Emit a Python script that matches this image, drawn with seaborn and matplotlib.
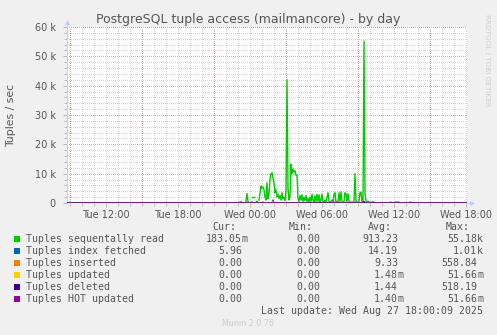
import numpy as np
import pandas as pd
import matplotlib
matplotlib.use("Agg")
import matplotlib.pyplot as plt
from matplotlib.patches import Rectangle
import seaborn as sns

# ---------------- data ----------------
# 5-minute samples, x in hours since Tue 00:00 (Tue 08:45 -> Wed 18:05)
start_hour = 8.75
step_hours = 5 / 60
n_samples = 400

# Tuples sequentially read, thousands/sec, samples from Tue 23:00 on (nan = no data)
seq_read_start = 23.0
seq_read_k = [
    0, 0, 0.3, 0.5, 0, 0, 0, 0, 0.5, 3.2, 0.5, 0, 0,
    np.nan, 2.2, 2.2, 2.2, np.nan, 0.6, 0.6, np.nan,
    1.0, 3.5, 5.8, 5.0, 5.5, 4.5, 2.0, 1.0, 7.0, 1.5, 3.0, 8.0, 10.0, 10.3, 8.5,
    7.0, 3.5, 4.5, 2.0, 3.0, 1.5, 2.5, 1.0, 3.5, 1.5, 2.0, 0.8, 4.0, 42.0, 5.0,
    1.0, 2.0, 13.3, 10.0, 11.5, 10.5, 11.0, 9.5, 9.5, 1.5,
    0.5, 2.5, 1.0, 2.8, 0.5, 2.0, 0.8, 2.5, 0.5, 1.5, 0.3, 2.0, 0.5, 3.0, 0.8,
    0.3, 2.5, 0.5, 3.0, 0.5, 2.8, 0.5, 1.0, 3.0, 0.5, 0.3, 1.0, 0.3, 2.0, 3.5,
    0.5, 0.3, 0.5, 1.0, 0.3, 3.0, 3.5, 0.3, 0.5, 0.3, 3.5, 0.5, 3.8, 0.5, 0.3,
    0.5, 3.5, 3.0, 0.5, 3.2, 0.5, 0.3, 0.3, 0.3, 0.3, 0.5,
    10.0, 0.3, 0.3, 0.3, 0.5, 3.5, 3.7, 0.5, 0.8, 55.2, 3.0, 0.6, 0.5, 0.6,
    0.3, 0.3, 0.2, 0.3, 0.4,
    0, 0, 0, 0, 0, 0, 0, 0, 0, 0, 0, 0, 0, 0, 0, 0,
    0.3, 0.3, 0, 0, 0, 0.3, 0.3, 0.3, 0.3, 0.3, 0,
    0, 0, 0, 0, 0, 0, 0, 0, 0, 0.3, 0.3, 0, 0, 0, 0,
]

# sparse series: (hour, tuples/sec); zero elsewhere
idx_fetch_hours = [23.25, 25.083, 25.917]
idx_fetch_vals = [300, 200, 1010]
inserted_hours = [23.167, 23.25, 23.333, 24.167, 25.083, 25.917]
inserted_vals = [400, 550, 300, 500, 400, 500]
updated_hours = []
updated_vals = []
deleted_hours = [33.5]
deleted_vals = [518]
hot_hours = []
hot_vals = []

series_labels = ["Tuples sequentally read", "Tuples index fetched", "Tuples inserted",
                 "Tuples updated", "Tuples deleted", "Tuples HOT updated"]
series_colors = ["#00cc00", "#0066b3", "#ff8000", "#ffcc00", "#330099", "#990099"]
cur_vals = ["183.05m", "5.96", "0.00", "0.00", "0.00", "0.00"]
min_vals = ["0.00", "0.00", "0.00", "0.00", "0.00", "0.00"]
avg_vals = ["913.23", "14.19", "9.33", "1.48m", "1.44", "1.40m"]
max_vals = ["55.18k", "1.01k", "558.84", "51.66m", "518.19", "51.66m"]

x_tick_hours = [12, 18, 24, 30, 36, 42]
x_tick_labels = ["Tue 12:00", "Tue 18:00", "Wed 00:00", "Wed 06:00", "Wed 12:00", "Wed 18:00"]
x_major_grid_hours = [9, 15, 21, 27, 33, 39]
y_ticks = [0, 10000, 20000, 30000, 40000, 50000, 60000]
y_tick_labels = ["0", "10 k", "20 k", "30 k", "40 k", "50 k", "60 k"]

title = "PostgreSQL tuple access (mailmancore) - by day"
ylabel = "Tuples / sec"
last_update = "Last update: Wed Aug 27 18:00:09 2025"

# ---------------- build series ----------------
hours = start_hour + np.arange(n_samples) * step_hours


def sparse_series(hs, vs):
    arr = np.zeros(n_samples)
    for h, v in zip(hs, vs):
        arr[int(round((h - start_hour) / step_hours))] = v
    return arr


seq = np.zeros(n_samples)
i0 = int(round((seq_read_start - start_hour) / step_hours))
seq[i0:i0 + len(seq_read_k)] = np.array(seq_read_k) * 1000
seg = np.cumsum(np.isnan(seq))
df_seq = pd.DataFrame({"hour": hours, "value": seq, "seg": seg}).dropna()

others = [sparse_series(idx_fetch_hours, idx_fetch_vals),
          sparse_series(inserted_hours, inserted_vals),
          sparse_series(updated_hours, updated_vals),
          sparse_series(deleted_hours, deleted_vals),
          sparse_series(hot_hours, hot_vals)]

# ---------------- figure ----------------
W, H = 497, 335
BG = "#f0f0f0"
TXT = "#555555"
fig = plt.figure(figsize=(W / 100, H / 100), dpi=100, facecolor=BG)
L, R, T, B = 67, 467, 27, 203
ax = fig.add_axes([L / W, 1 - B / H, (R - L) / W, (B - T) / H])
ax.set_facecolor("white")

xmin, xmax = start_hour, start_hour + n_samples * step_hours
ax.set_xlim(xmin, xmax)
ax.set_ylim(0, 60000)

# grid (1px on / 1px off dotted, like rrdtool)
dash = (0, (1, 1.3))
gkw = dict(lw=0.72, ls=dash, antialiased=False)
for h in range(9, 43):
    if h in x_major_grid_hours:
        continue
    ax.axvline(h, color="#d6d6d6", zorder=0.5, **gkw)
for v in range(2000, 60001, 2000):
    if v % 10000 == 0:
        continue
    ax.axhline(v, color="#d6d6d6", zorder=0.5, **gkw)
for h in x_major_grid_hours:
    ax.axvline(h, color="#e8aaaa", zorder=0.6, **gkw)
for v in range(10000, 60001, 10000):
    ax.axhline(v, color="#e8aaaa", zorder=0.6, **gkw)

# series
sns.lineplot(data=df_seq, x="hour", y="value", units="seg", estimator=None,
             color=series_colors[0], lw=1.0, ax=ax, legend=False, zorder=3)
for arr, c in zip(others, series_colors[1:]):
    sns.lineplot(x=hours, y=arr, color=c, lw=1.0, ax=ax, legend=False, zorder=3)

ax.set_xlabel("")
ax.set_ylabel("")

# axes styling
for s in ["top", "right", "bottom"]:
    ax.spines[s].set_visible(False)
ax.spines["left"].set_color("#c8ccf0")
ax.spines["left"].set_linewidth(0.8)
ax.set_xticks(x_tick_hours)
ax.set_xticklabels(x_tick_labels)
ax.set_yticks(y_ticks)
ax.set_yticklabels(y_tick_labels)
ax.set_xticks(range(9, 43), minor=True)
ax.set_yticks(range(0, 60001, 2000), minor=True)
ax.tick_params(axis="both", which="both", colors="#b0b0b0", labelcolor=TXT,
               labelsize=7, width=0.6)
ax.tick_params(axis="y", which="major", length=3, pad=5)
ax.tick_params(axis="y", which="minor", length=2)
ax.tick_params(axis="x", which="major", length=3, pad=2)
ax.tick_params(axis="x", which="minor", length=2)

# axis arrows
ax.plot([0, 0], [1.0, 1.025], transform=ax.transAxes, color="#c8ccf0", lw=0.8, clip_on=False)
ax.plot([0], [1.03], transform=ax.transAxes, marker="^", ms=3.5, color="#c0c8f4",
        clip_on=False, mec="none")
ax.plot([1.0, 1.01], [0, 0], transform=ax.transAxes, color="#c8ccf0", lw=0.8, clip_on=False)
ax.plot([1.013], [0], transform=ax.transAxes, marker=">", ms=3.5, color="#c0c8f4",
        clip_on=False, mec="none")


def fx(px):
    return px / W


def fy(py):
    return 1 - py / H


fig.text(fx(248.5), fy(19), title, ha="center", va="center", fontsize=9, color=TXT,
         family="DejaVu Sans")
fig.text(fx(11), fy(115), ylabel, ha="center", va="center", rotation=90,
         fontsize=7.8, color=TXT)
fig.text(fx(487), fy(14), "RRDTOOL / TOBI OETIKER", ha="center", va="top", rotation=270,
         fontsize=5.2, color="#d0d0d0")

mono = dict(family="DejaVu Sans Mono", fontsize=7.1, color=TXT)
header_y = 227.3
for name, xr in [("Cur:", 236), ("Min:", 313), ("Avg:", 392), ("Max:", 470)]:
    fig.text(fx(xr), fy(header_y), name, ha="right", va="center", **mono)

col_ends = [242, 320, 398, 477]
row_y0, row_dy = 239.3, 12.0
for i, lab in enumerate(series_labels):
    y = row_y0 + i * row_dy
    fig.patches.append(Rectangle((fx(14), fy(y + 3)), 6 / W, 6 / H, transform=fig.transFigure,
                                 facecolor=series_colors[i], edgecolor="none"))
    fig.text(fx(26), fy(y), lab, ha="left", va="center", **mono)
    for col, xe in zip([cur_vals, min_vals, avg_vals, max_vals], col_ends):
        s = col[i]
        if s[-1] in "mkM":
            fig.text(fx(xe), fy(y), s[:-1], ha="right", va="center", **mono)
            fig.text(fx(xe), fy(y), s[-1], ha="left", va="center", **mono)
        else:
            fig.text(fx(xe), fy(y), s, ha="right", va="center", **mono)

fig.text(fx(483), fy(311), last_update, ha="right", va="center", **mono)
fig.text(fx(248), fy(324), "Munin 2.0.76", ha="center", va="center", fontsize=5.8,
         color="#cccccc")

fig.savefig("out.png", dpi=100, facecolor=BG)
